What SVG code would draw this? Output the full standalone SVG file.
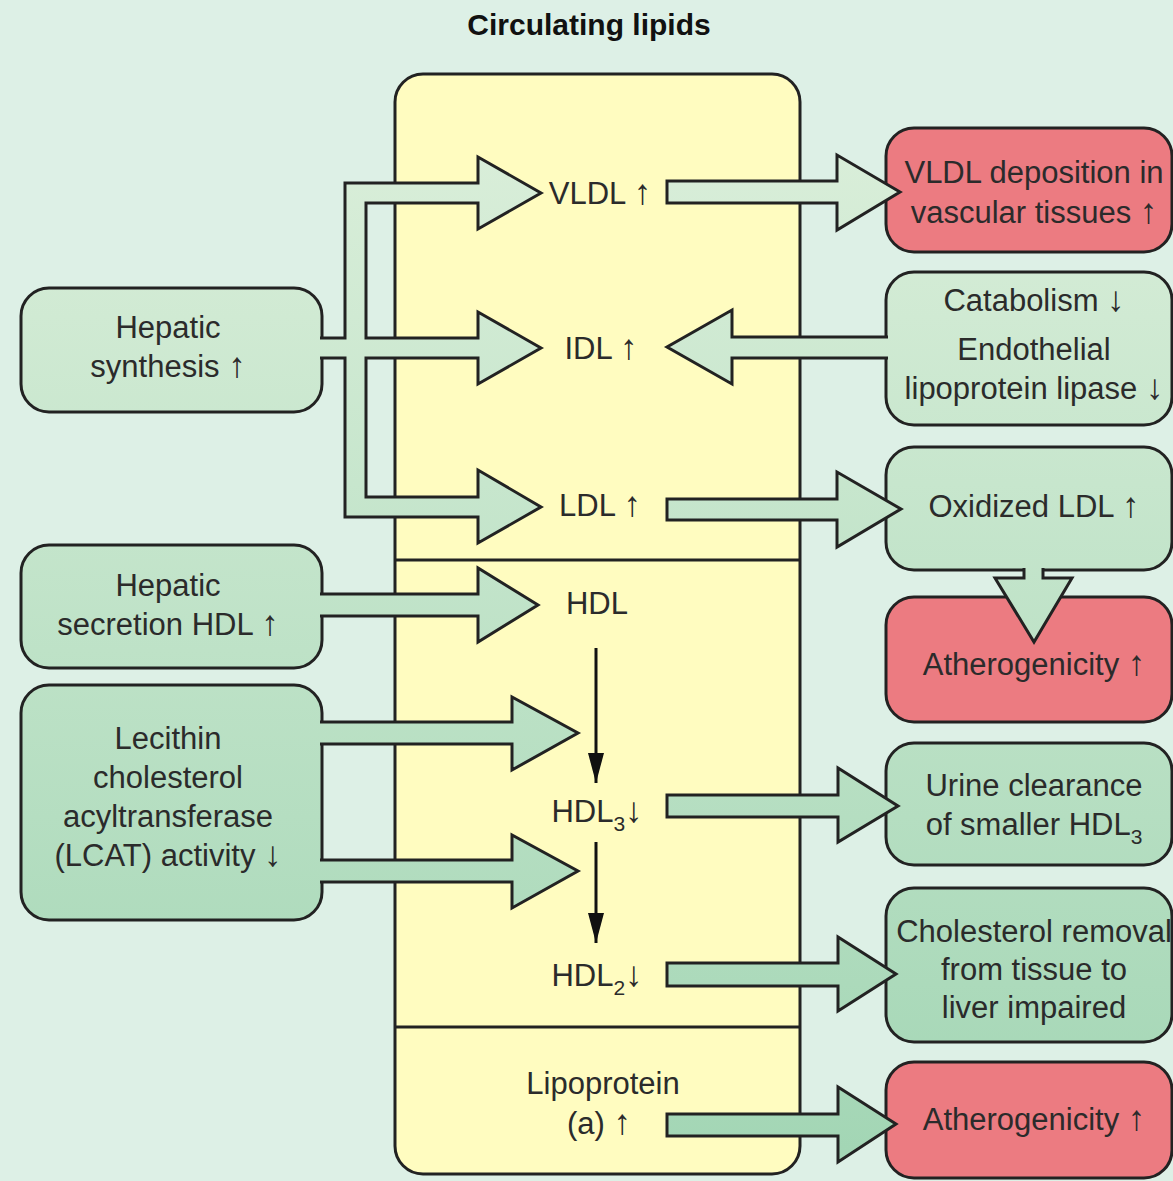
<svg xmlns="http://www.w3.org/2000/svg" width="1173" height="1181" viewBox="0 0 1173 1181">
<defs>
<linearGradient id="gr" gradientUnits="userSpaceOnUse" x1="0" y1="150" x2="0" y2="1150">
<stop offset="0" stop-color="#d9eed9"/>
<stop offset="1" stop-color="#a3d6b5"/>
</linearGradient>
<marker id="ah" markerUnits="userSpaceOnUse" markerWidth="30" markerHeight="16" viewBox="0 0 30 16" refX="30" refY="8" orient="auto">
<path d="M0,0 L30,8 L0,16 z" fill="#111"/>
</marker>
<style>
.box{stroke:#222;stroke-width:3}
.g{fill:url(#gr)}
.r{fill:#ec7b81}
.y{fill:#fffcc0}
.arr{fill:url(#gr);stroke:#222;stroke-width:3;stroke-linejoin:miter}
.t{font-family:"Liberation Sans",Arial,sans-serif;font-size:31px;fill:#2b2b2b;text-anchor:middle}
.a{font-family:"Liberation Sans",Arial,sans-serif;font-size:35px}
.title{font-family:"Liberation Sans",Arial,sans-serif;font-size:30px;font-weight:bold;fill:#111;text-anchor:middle}
.thin{stroke:#111;stroke-width:3;fill:none;marker-end:url(#ah)}
.div{stroke:#222;stroke-width:3}
</style>
</defs>
<rect x="0" y="0" width="1173" height="1181" fill="#ddf0e6"/>
<text class="title" x="589" y="35">Circulating lipids</text>

<g id="circulating">
<rect class="box y" x="395" y="74" width="405" height="1100" rx="28"/>
<line class="div" x1="395" y1="560" x2="800" y2="560"/>
<line class="div" x1="395" y1="1027" x2="800" y2="1027"/>
<text class="t" x="600" y="204">VLDL <tspan class="a">↑</tspan></text>
<text class="t" x="601" y="359">IDL <tspan class="a">↑</tspan></text>
<text class="t" x="600" y="516">LDL <tspan class="a">↑</tspan></text>
<text class="t" x="597" y="614">HDL</text>
<text class="t" x="597" y="822">HDL<tspan dy="9" font-size="21">3</tspan><tspan dy="-9" class="a">↓</tspan></text>
<text class="t" x="597" y="986">HDL<tspan dy="9" font-size="21">2</tspan><tspan dy="-9" class="a">↓</tspan></text>
<text class="t" x="603" y="1094">Lipoprotein</text>
<text class="t" x="599" y="1134">(a) <tspan class="a">↑</tspan></text>
</g>

<g id="hepatic-synthesis">
<rect class="box g" x="21" y="288" width="301" height="124" rx="28"/>
<text class="t" x="168" y="338">Hepatic</text>
<text class="t" x="168" y="377">synthesis <tspan class="a">↑</tspan></text>
</g>
<g id="hepatic-secretion">
<rect class="box g" x="21" y="545" width="301" height="123" rx="28"/>
<text class="t" x="168" y="596">Hepatic</text>
<text class="t" x="168" y="635">secretion HDL <tspan class="a">↑</tspan></text>
</g>
<g id="lcat">
<rect class="box g" x="21" y="685" width="301" height="235" rx="28"/>
<text class="t" x="168" y="749">Lecithin</text>
<text class="t" x="168" y="788">cholesterol</text>
<text class="t" x="168" y="827">acyltransferase</text>
<text class="t" x="168" y="866">(LCAT) activity <tspan class="a">↓</tspan></text>
</g>

<g id="vldl-deposition">
<rect class="box r" x="886" y="128" width="286" height="124" rx="28"/>
<text class="t" x="1034" y="183">VLDL deposition in</text>
<text class="t" x="1034" y="223">vascular tissues <tspan class="a">↑</tspan></text>
</g>
<g id="catabolism">
<rect class="box g" x="886" y="272" width="286" height="153" rx="28"/>
<text class="t" x="1034" y="311">Catabolism <tspan class="a">↓</tspan></text>
<text class="t" x="1034" y="360">Endothelial</text>
<text class="t" x="1034" y="399">lipoprotein lipase <tspan class="a">↓</tspan></text>
</g>
<g id="oxidized-ldl">
<rect class="box g" x="886" y="447" width="286" height="123" rx="28"/>
<text class="t" x="1034" y="517">Oxidized LDL <tspan class="a">↑</tspan></text>
</g>
<g id="atherogenicity-1">
<rect class="box r" x="886" y="597" width="286" height="125" rx="28"/>
<text class="t" x="1034" y="675">Atherogenicity <tspan class="a">↑</tspan></text>
</g>
<g id="urine-clearance">
<rect class="box g" x="886" y="743" width="286" height="122" rx="28"/>
<text class="t" x="1034" y="796">Urine clearance</text>
<text class="t" x="1034" y="835">of smaller HDL<tspan dy="9" font-size="21">3</tspan></text>
</g>
<g id="cholesterol-removal">
<rect class="box g" x="886" y="888" width="286" height="154" rx="28"/>
<text class="t" x="1034" y="942">Cholesterol removal</text>
<text class="t" x="1034" y="980">from tissue to</text>
<text class="t" x="1034" y="1018">liver impaired</text>
</g>
<g id="atherogenicity-2">
<rect class="box r" x="886" y="1062" width="286" height="116" rx="28"/>
<text class="t" x="1034" y="1130">Atherogenicity <tspan class="a">↑</tspan></text>
</g>

<g id="connectors">
<path class="arr" d="M320,338 L345,338 L345,183 L478,183 L478,157 L541,193 L478,229 L478,203 L366,203 L366,338 L478,338 L478,312 L541,348 L478,384 L478,358 L366,358 L366,497 L478,497 L478,470 L541,507 L478,543 L478,517 L345,517 L345,358 L320,358"/>
<path class="arr" d="M320,594 L478,594 L478,568 L538,605 L478,642 L478,616 L320,616"/>
<path class="arr" d="M320,722 L512,722 L512,697 L578,733 L512,770 L512,744 L320,744"/>
<path class="arr" d="M320,860 L512,860 L512,835 L578,871 L512,908 L512,882 L320,882"/>
<path class="arr" d="M667,181 L837,181 L837,155 L900,192 L837,230 L837,203 L667,203 Z"/>
<path class="arr" d="M888,337 L732,337 L732,310 L667,347 L732,384 L732,358 L888,358"/>
<path class="arr" d="M667,499 L837,499 L837,472 L901,509 L837,547 L837,520 L667,520 Z"/>
<path class="arr" d="M1024,568 L1024,578 L995,578 L1034,642 L1072,578 L1043,578 L1043,568"/>
<path class="arr" d="M667,795 L838,795 L838,768 L898,806 L838,842 L838,817 L667,817 Z"/>
<path class="arr" d="M667,963 L838,963 L838,937 L896,974 L838,1011 L838,986 L667,986 Z"/>
<path class="arr" d="M667,1114 L838,1114 L838,1087 L896,1124 L838,1162 L838,1136 L667,1136 Z"/>
<line class="thin" x1="596" y1="648" x2="596" y2="783"/>
<line class="thin" x1="596" y1="842" x2="596" y2="943"/>
</g>
</svg>
